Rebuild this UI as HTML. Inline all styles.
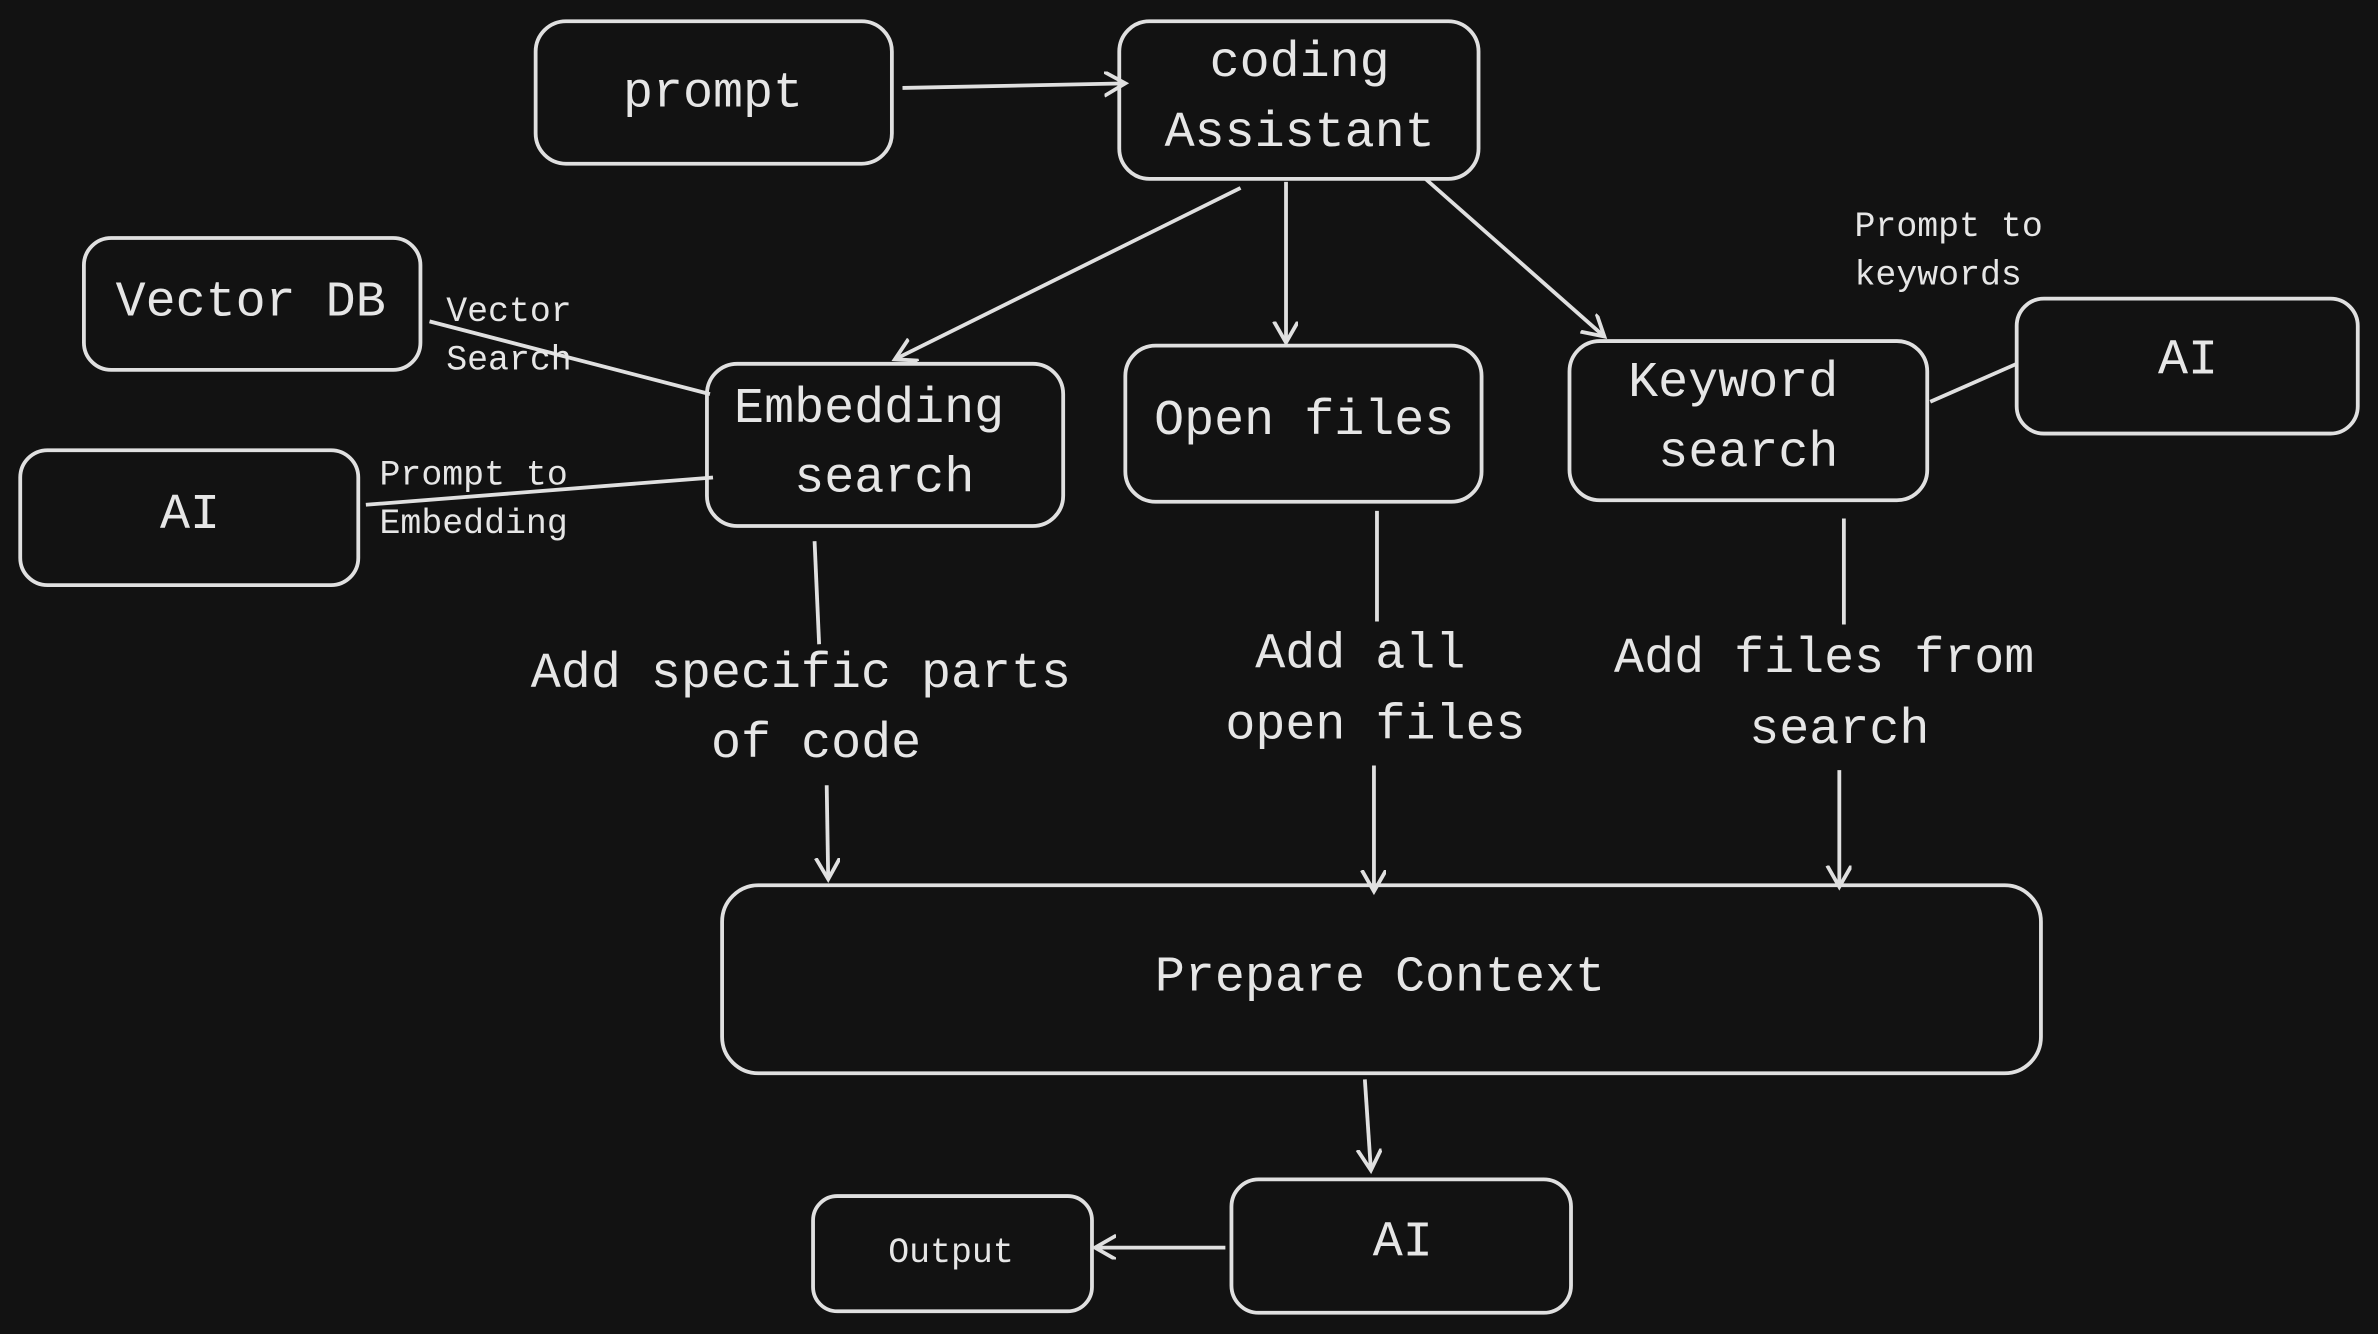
<!DOCTYPE html>
<html><head><meta charset="utf-8"><style>
html,body{margin:0;padding:0;background:#121212;}
svg{display:block;}
text{font-family:"Liberation Mono",monospace;fill:#e6e6e6;}
</style></head><body>
<svg width="2378" height="1334" viewBox="0 0 1568 880" xmlns="http://www.w3.org/2000/svg">
<rect width="1568" height="880" fill="#121212"/>
<defs>
<marker id="a" markerWidth="20" markerHeight="20" refX="14" refY="8" orient="auto" markerUnits="userSpaceOnUse">
<path d="M0,0 L14,8 L0,16" fill="none" stroke="#e0e0e0" stroke-width="2.5"/>
</marker>
</defs>
<g fill="none" stroke="#e0e0e0" stroke-width="2.5">
<rect x="353" y="14" width="235" height="94" rx="20"/>
<rect x="738" y="14" width="237" height="104" rx="20"/>
<rect x="55" y="157" width="222" height="87" rx="18"/>
<rect x="13" y="297" width="223" height="89" rx="18"/>
<rect x="466" y="240" width="235" height="107" rx="20"/>
<rect x="742" y="228" width="235" height="103" rx="20"/>
<rect x="1035" y="225" width="236" height="105" rx="20"/>
<rect x="1330" y="197" width="225" height="89" rx="18"/>
<rect x="476" y="584" width="870" height="124" rx="24"/>
<rect x="812" y="778" width="224" height="88" rx="18"/>
<rect x="536" y="789" width="184" height="76" rx="16"/>
<line x1="595" y1="58" x2="742" y2="55" marker-end="url(#a)"/>
<line x1="283" y1="212" x2="468" y2="260"/>
<line x1="241" y1="333" x2="470" y2="315"/>
<line x1="1273" y1="265" x2="1330" y2="240"/>
<line x1="818" y1="124" x2="590" y2="237" marker-end="url(#a)"/>
<line x1="848" y1="120" x2="848" y2="226" marker-end="url(#a)"/>
<line x1="940" y1="118" x2="1058" y2="222" marker-end="url(#a)"/>
<line x1="537" y1="357" x2="540" y2="425"/>
<line x1="545" y1="518" x2="546" y2="580" marker-end="url(#a)"/>
<line x1="908" y1="337" x2="908" y2="410"/>
<line x1="906" y1="505" x2="906" y2="588" marker-end="url(#a)"/>
<line x1="1216" y1="342" x2="1216" y2="412"/>
<line x1="1213" y1="508" x2="1213" y2="585" marker-end="url(#a)"/>
<line x1="900" y1="712" x2="904" y2="772" marker-end="url(#a)"/>
<line x1="808" y1="823" x2="722" y2="823" marker-end="url(#a)"/>
</g>
<g font-size="33" text-anchor="middle" dominant-baseline="central">
<text x="470" y="62">prompt</text>
<text x="857" y="42">coding</text>
<text x="857" y="88">Assistant</text>
<text x="165" y="200">Vector DB</text>
<text x="125" y="340">AI</text>
<text x="573" y="270">Embedding</text>
<text x="583" y="316">search</text>
<text x="860" y="278">Open files</text>
<text x="1143" y="253">Keyword</text>
<text x="1153" y="299">search</text>
<text x="1443" y="238">AI</text>
<text x="528" y="445">Add specific parts</text>
<text x="538" y="491">of code</text>
<text x="897" y="432">Add all</text>
<text x="907" y="479">open files</text>
<text x="1203" y="435">Add files from</text>
<text x="1213" y="482">search</text>
<text x="910" y="645">Prepare Context</text>
<text x="925" y="820">AI</text>
</g>
<g font-size="23" dominant-baseline="central">
<text x="1223" y="150">Prompt to</text>
<text x="1223" y="182">keywords</text>
<text x="294" y="206">Vector</text>
<text x="294" y="238">Search</text>
<text x="250" y="314">Prompt to</text>
<text x="250" y="346">Embedding</text>
<text x="627" y="827" text-anchor="middle">Output</text>
</g>
</svg>
</body></html>
